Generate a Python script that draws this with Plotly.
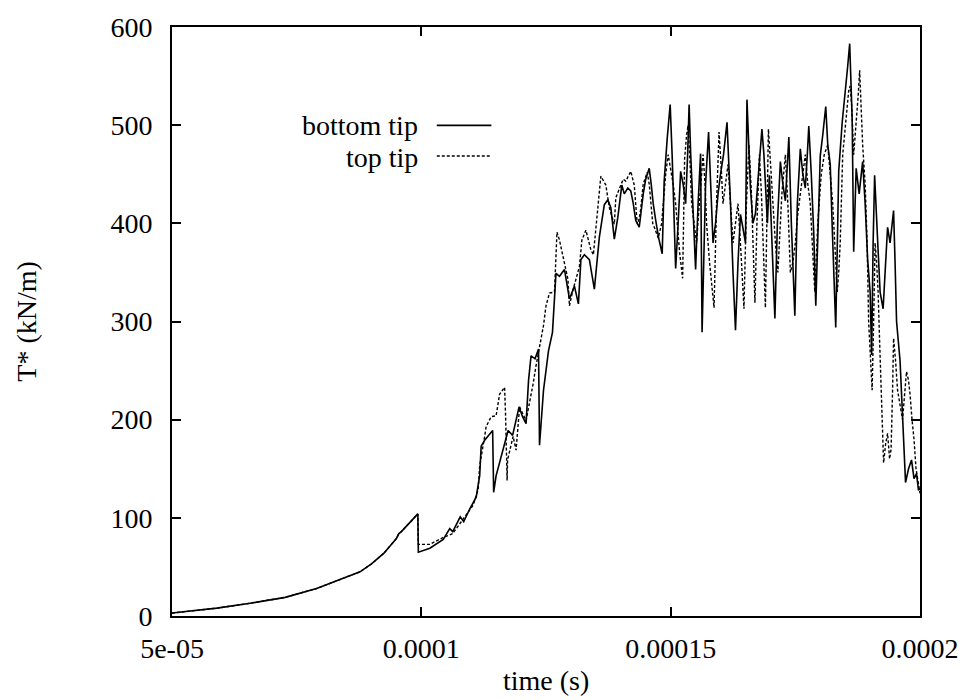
import plotly.graph_objects as go

# Shared early loading history (both crack tips coincide), time in microseconds
t_early = [50, 54, 59, 65.7, 72.7, 79, 84.3, 87.7, 90, 92.5, 95, 95.5, 96, 97.5, 99.3]
T_early = [3, 5, 8, 13, 19, 28, 38, 45, 53, 64, 79, 84, 86, 94, 104]

# Bottom tip after first crack advance
t_bottom = [99.4, 101.7, 104.4, 105.7, 106.3, 107.3, 107.8, 108.5, 109.7, 111, 111.7, 112,
            112.7, 114.3, 114.5, 115, 116.7, 117.4, 118.3, 119.3, 119.6, 120.3, 121, 121.5,
            122, 122.8, 123.5, 123.7, 124.5, 125.5, 126.3, 127, 127.7, 128.7, 129.7, 130.7,
            131.5, 132, 132.7, 133.7, 134.7, 135.7, 136.7, 137.4, 138, 138.7, 139.4,
            140.2, 140.7, 141.4, 142, 142.5, 143, 143.7, 144.1, 144.5, 145, 145.7, 146.1,
            146.5, 147, 147.6, 148.3, 148.7, 149.3, 149.9, 150.3, 150.7, 151, 151.5, 152,
            152.5, 153, 153.4, 153.7, 154, 154.5, 155, 155.5, 156, 156.3, 156.7, 157, 157.6,
            158, 158.5, 159, 159.5, 160, 160.6, 161.3, 161.7, 162, 162.5, 163, 163.5, 164,
            164.5, 165, 165.3, 165.7, 166, 166.5, 167, 167.6, 168.3, 168.7, 169, 169.4, 169.8,
            170.3, 170.9, 171.4, 172, 172.5, 173, 173.4, 173.7, 174.2, 174.9, 175.4, 176,
            176.5, 177, 177.4, 177.7, 178.2, 178.7, 179.1, 179.6, 180, 180.5, 181.1, 181.5,
            182, 182.4, 182.8, 183.1, 183.5, 183.7, 184.4, 185, 185.5, 185.9, 186.2, 186.4,
            186.7, 187.2, 187.8, 188.5, 189, 189.5, 190, 190.3, 190.6, 190.9, 191.5, 192,
            192.6, 193, 193.5, 194, 194.7, 195, 195.3, 196, 196.5, 197.1, 197.7, 198.3, 198.8,
            199.3, 199.7, 200]
T_bottom = [65, 69, 78, 89, 86, 96, 101, 96, 109, 121, 143, 173,
            179, 189, 126, 143, 176, 189, 184, 209, 213, 203, 196, 240,
            265, 262, 272, 174, 230, 270, 289, 349, 346, 353, 323, 336,
            318, 363, 368, 363, 333, 386, 419, 424, 416, 384, 406,
            439, 430, 436, 433, 420, 403, 396, 415, 430, 445, 456, 440,
            420, 403, 385, 369, 443, 486, 521, 469, 410, 354, 400, 453,
            440, 420, 470, 521, 473, 410, 353, 420, 471, 289, 380, 440, 493,
            436, 380, 400, 430, 450, 470, 503, 460, 420, 350, 291, 360, 409,
            395, 380, 526, 470, 436, 400, 410, 450, 496, 470, 440, 400, 449,
            380, 303, 400, 463, 440, 423, 460, 488, 400, 306, 420, 476,
            450, 436, 470, 499, 450, 389, 316, 400, 469, 490, 519, 480,
            460, 396, 340, 294, 400, 453, 503, 539, 560, 583, 540, 506,
            371, 456, 430, 463, 420, 363, 330, 266, 380, 449, 383, 330,
            313, 350, 396, 380, 413, 360, 300, 260, 200, 136, 150, 159, 140,
            145, 128, 130]

# Top tip after first crack advance
t_top = [99.4, 101.7, 104.4, 106.3, 108, 110.4, 111.4, 111.7, 112.7, 113, 114, 115, 115.7,
         116.7, 116.9, 117.2, 117.3, 118.4, 119, 119.3, 119.7, 121, 122, 122.4, 123, 123.5,
         124.5, 125, 125.7, 126.7, 127.2, 127.7, 128.7, 129.4, 129.7, 130.3, 131.7, 132.2,
         133, 134, 134.5, 135.7, 136, 137, 137.7, 138.7, 139,
         140, 140.5, 141, 141.5, 142, 142.7, 143.3, 143.7, 144, 144.5, 145.3, 145.7, 146,
         146.4, 146.8, 147.5, 148.2, 148.6, 149, 149.5, 150, 150.5, 151, 151.3, 151.8,
         152.4, 152.8, 153.2, 153.5, 153.9, 154.2, 154.7, 155.2, 155.6, 156, 156.5, 156.9,
         157.2, 157.8, 158.3, 158.7, 159.2, 159.7, 160.1, 160.5, 161, 161.5, 162, 162.5,
         163, 163.5, 164.1, 164.7, 165.2, 165.7, 166.2, 166.9, 167.3, 167.8, 168.2, 168.5,
         169, 169.6, 170, 170.5, 171, 171.5, 172, 172.3, 173, 173.5, 174, 174.5, 175, 175.5,
         176, 176.5, 177, 177.5, 178, 178.5, 178.9, 179.5, 180.2, 180.8, 181.5, 182, 182.5,
         183, 183.4, 183.7, 184, 184.5, 185, 185.3, 185.7, 186, 186.3, 186.7, 187.2, 187.6,
         187.9, 188.2, 188.5, 189, 189.4, 189.7, 190.1, 190.4, 190.7, 191, 191.3, 191.6,
         191.9, 192.2, 192.5, 192.7, 193.1, 193.5, 193.9, 194.2, 194.5, 194.7, 195.1, 195.5,
         196, 196.5, 196.9, 197.3, 197.7, 198, 198.4, 198.8, 199.2, 199.5, 200]
T_top = [73, 73, 80, 84, 96, 113, 129, 153, 183, 193, 203, 204, 226,
         233, 203, 138, 159, 183, 169, 186, 213, 199, 225, 236, 255, 270,
         296, 316, 329, 330, 391, 383, 359, 343, 316, 330, 356, 383,
         393, 373, 368, 429, 448, 439, 416, 399, 426,
         439, 445, 443, 448, 453, 439, 399, 405, 415, 440, 452, 440, 420,
         400, 395, 385, 400, 430, 450, 470, 455, 440, 420, 400, 370,
         344, 466, 490, 500, 460, 420, 400, 380, 410, 440, 470, 440,
         400, 360, 330, 314, 420, 493, 460, 420, 440, 460, 420, 380,
         400, 420, 370, 313, 420, 480, 430, 319, 400, 470, 430, 380,
         314, 496, 460, 420, 380, 350, 400, 430, 470, 420, 350, 360, 380, 410,
         430, 450, 470, 440, 420, 370, 330, 400, 450, 470, 480, 450, 420,
         370, 330, 350, 380, 470, 500, 520, 535, 540, 520, 470, 500, 530,
         556, 520, 480, 440, 380, 300, 260, 230, 300, 380, 360, 330,
         280, 230, 180, 156, 175, 186, 160, 170, 230, 283, 260, 230,
         215, 200, 225, 249, 240, 226, 200, 180, 150, 140, 125]

x_ticks = [5e-05, 1e-04, 1.5e-04, 2e-04]
x_ticktext = ["5e-05", "0.0001", "0.00015", "0.0002"]
y_ticks = [0, 100, 200, 300, 400, 500, 600]

US = 1e-6
serif = "Liberation Serif, Times New Roman, serif"
FS = 28

fig = go.Figure()
fig.add_trace(go.Scatter(
    x=[v * US for v in t_early + t_bottom], y=T_early + T_bottom,
    mode="lines", name="bottom tip",
    line=dict(color="black", width=1.6),
))
fig.add_trace(go.Scatter(
    x=[v * US for v in t_early + t_top], y=T_early + T_top,
    mode="lines", name="top tip",
    line=dict(color="black", width=1.4, dash="3px,2px"),
))

axis_common = dict(
    showline=True, linecolor="black", linewidth=2, mirror="allticks",
    ticks="inside", ticklen=9, tickwidth=1.5, tickcolor="black",
    showgrid=False, zeroline=False,
    tickfont=dict(family=serif, size=FS, color="black"),
)

fig.update_xaxes(range=[5e-05, 2e-04], tickvals=x_ticks, ticktext=x_ticktext,
                 ticklabelstandoff=6, **axis_common)
fig.update_yaxes(range=[0, 600], tickvals=y_ticks, ticklabelstandoff=12, **axis_common)

# Axis titles
fig.add_annotation(text="time (s)", x=0.5, y=-0.11, xref="paper", yref="paper",
                   showarrow=False, font=dict(family=serif, size=FS, color="black"),
                   xanchor="center", yanchor="middle")
fig.add_annotation(text="T* (kN/m)", x=-0.195, y=0.5, xref="paper", yref="paper",
                   showarrow=False, textangle=-90,
                   font=dict(family=serif, size=FS, color="black"),
                   xanchor="center", yanchor="middle")

# Key: label text followed by line sample, in the upper left of the frame
fig.add_annotation(text="bottom tip", x=0.3312, y=0.832, xref="paper", yref="paper",
                   showarrow=False, xanchor="right", yanchor="middle",
                   font=dict(family=serif, size=FS, color="black"))
fig.add_annotation(text="top tip", x=0.3312, y=0.779, xref="paper", yref="paper",
                   showarrow=False, xanchor="right", yanchor="middle",
                   font=dict(family=serif, size=FS, color="black"))
fig.add_shape(type="line", xref="paper", yref="paper", x0=0.354, x1=0.427,
              y0=0.833, y1=0.833, line=dict(color="black", width=1.6))
fig.add_shape(type="line", xref="paper", yref="paper", x0=0.354, x1=0.427,
              y0=0.781, y1=0.781, line=dict(color="black", width=1.4, dash="3px,2px"))

fig.update_layout(
    width=971, height=700,
    margin=dict(l=171.5, r=49.3, t=17, b=84),
    paper_bgcolor="white", plot_bgcolor="white",
    showlegend=False,
)

fig.write_html("out.html")
